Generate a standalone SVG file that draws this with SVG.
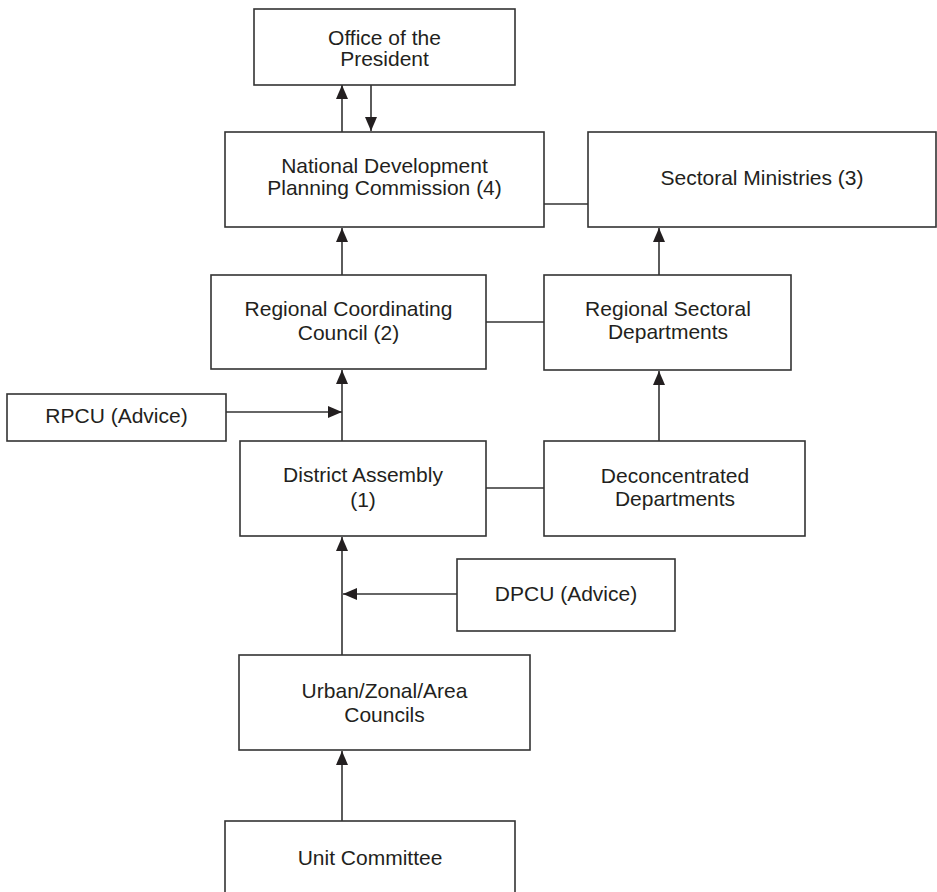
<svg xmlns="http://www.w3.org/2000/svg" width="937" height="892" viewBox="0 0 937 892">
  <defs>
    <marker id="arrow" markerUnits="userSpaceOnUse" markerWidth="14" markerHeight="12" refX="14" refY="6" orient="auto">
      <path d="M0,0 L14,6 L0,12 Z" fill="#231f20"/>
    </marker>
    <style>
      .box { fill: #ffffff; stroke: #333333; stroke-width: 1.6; }
      .lbl { font-family: "Liberation Sans", Arial, sans-serif; font-size: 21px; fill: #231f20; text-anchor: middle; }
      .link { fill: none; stroke: #333333; stroke-width: 1.6; }
      .flow { fill: none; stroke: #333333; stroke-width: 1.6; marker-end: url(#arrow); }
    </style>
  </defs>
  <rect width="937" height="892" fill="#ffffff"/>

  <g id="connectors">
    <!-- reporting flows -->
    <line class="flow" x1="342" y1="132" x2="342" y2="85"/>
    <line class="flow" x1="371" y1="85" x2="371" y2="131"/>
    <line class="flow" x1="342" y1="275" x2="342" y2="228"/>
    <line class="flow" x1="659" y1="275" x2="659" y2="228"/>
    <line class="flow" x1="342" y1="441" x2="342" y2="370"/>
    <line class="flow" x1="659" y1="441" x2="659" y2="371"/>
    <line class="flow" x1="342" y1="655" x2="342" y2="537"/>
    <line class="flow" x1="342" y1="821" x2="342" y2="751"/>
    <!-- advisory inputs -->
    <line class="flow" x1="226" y1="412" x2="342" y2="412"/>
    <line class="flow" x1="457" y1="594" x2="343" y2="594"/>
    <!-- horizontal liaison links -->
    <line class="link" x1="544" y1="204" x2="588" y2="204"/>
    <line class="link" x1="486" y1="322" x2="544" y2="322"/>
    <line class="link" x1="486" y1="488" x2="544" y2="488"/>
  </g>

  <g id="office-president">
    <rect class="box" x="254" y="9" width="261" height="76"/>
    <text class="lbl" x="384.5" y="44.5">Office of the</text>
    <text class="lbl" x="384.5" y="65.5">President</text>
  </g>

  <g id="ndpc">
    <rect class="box" x="225" y="132" width="319" height="95"/>
    <text class="lbl" x="384.5" y="173">National Development</text>
    <text class="lbl" x="384.5" y="195">Planning Commission (4)</text>
  </g>

  <g id="sectoral-ministries">
    <rect class="box" x="588" y="132" width="348" height="95"/>
    <text class="lbl" x="762" y="185">Sectoral Ministries (3)</text>
  </g>

  <g id="rcc">
    <rect class="box" x="211" y="275" width="275" height="94"/>
    <text class="lbl" x="348.5" y="316">Regional Coordinating</text>
    <text class="lbl" x="348.5" y="340">Council (2)</text>
  </g>

  <g id="regional-sectoral">
    <rect class="box" x="544" y="275" width="247" height="95"/>
    <text class="lbl" x="668" y="316">Regional Sectoral</text>
    <text class="lbl" x="668" y="339">Departments</text>
  </g>

  <g id="rpcu">
    <rect class="box" x="7" y="394" width="219" height="47"/>
    <text class="lbl" x="116.5" y="423">RPCU (Advice)</text>
  </g>

  <g id="district-assembly">
    <rect class="box" x="240" y="441" width="246" height="95"/>
    <text class="lbl" x="363" y="482">District Assembly</text>
    <text class="lbl" x="363" y="506.5">(1)</text>
  </g>

  <g id="deconcentrated">
    <rect class="box" x="544" y="441" width="261" height="95"/>
    <text class="lbl" x="675" y="483">Deconcentrated</text>
    <text class="lbl" x="675" y="506">Departments</text>
  </g>

  <g id="dpcu">
    <rect class="box" x="457" y="559" width="218" height="72"/>
    <text class="lbl" x="566" y="601">DPCU (Advice)</text>
  </g>

  <g id="urban-councils">
    <rect class="box" x="239" y="655" width="291" height="95"/>
    <text class="lbl" x="384.5" y="697.5">Urban/Zonal/Area</text>
    <text class="lbl" x="384.5" y="721.5">Councils</text>
  </g>

  <g id="unit-committee">
    <rect class="box" x="225" y="821" width="290" height="90"/>
    <text class="lbl" x="370" y="864.5">Unit Committee</text>
  </g>
</svg>
